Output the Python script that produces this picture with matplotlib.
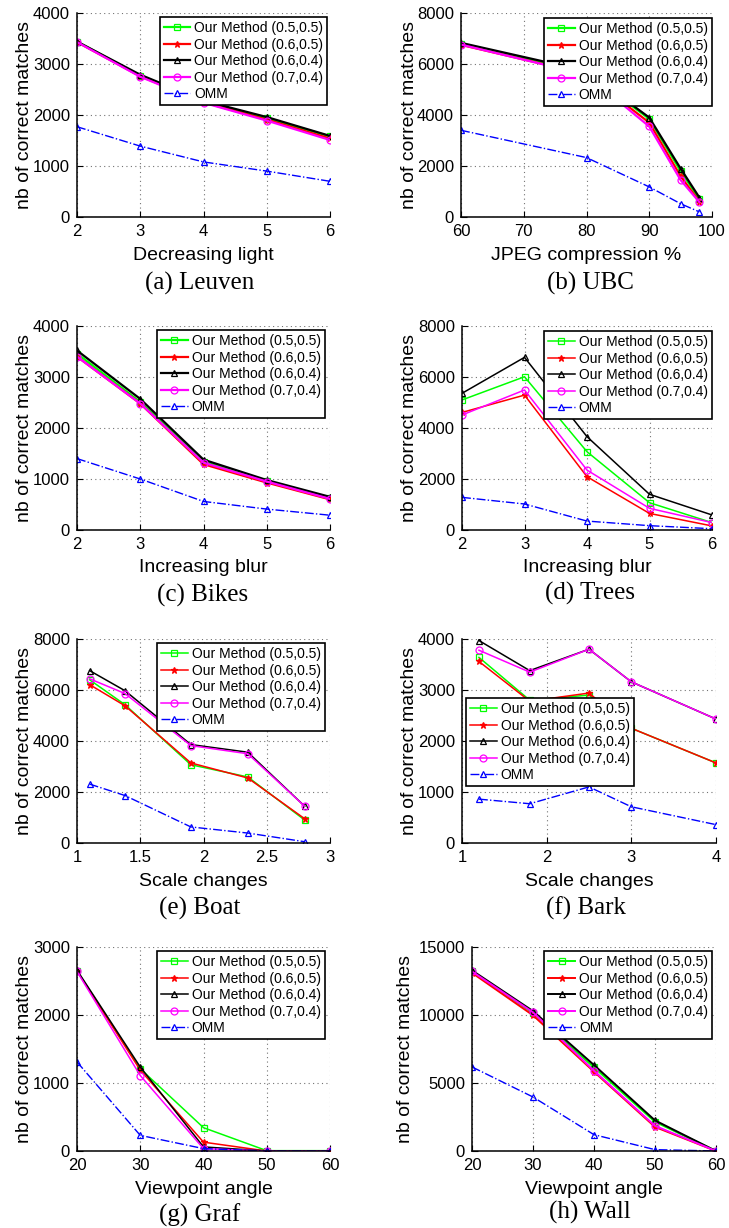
import matplotlib.pyplot as plt

plt.rcParams['font.family'] = ['Liberation Sans', 'DejaVu Sans']

labels = ['Our Method (0.5,0.5)', 'Our Method (0.6,0.5)', 'Our Method (0.6,0.4)',
          'Our Method (0.7,0.4)', 'OMM']

# (a) Leuven
leuven_x = [2, 3, 4, 5, 6]
leuven_g = [3440, 2770, 2270, 1940, 1580]
leuven_r = [3430, 2760, 2250, 1910, 1540]
leuven_k = [3440, 2790, 2280, 1960, 1590]
leuven_m = [3430, 2750, 2240, 1890, 1510]
leuven_omm = [1770, 1390, 1080, 900, 700]

# (b) UBC
ubc_x = [60, 80, 90, 95, 98]
ubc_g = [6800, 5680, 3850, 1800, 700]
ubc_r = [6750, 5600, 3700, 1600, 600]
ubc_k = [6830, 5720, 3900, 1900, 760]
ubc_m = [6760, 5580, 3550, 1450, 580]
ubc_omm = [3400, 2330, 1180, 520, 200]

# (c) Bikes
bikes_x = [2, 3, 4, 5, 6]
bikes_g = [3460, 2510, 1340, 960, 620]
bikes_r = [3400, 2480, 1290, 930, 600]
bikes_k = [3520, 2570, 1380, 980, 650]
bikes_m = [3400, 2480, 1320, 950, 610]
bikes_omm = [1400, 1000, 560, 410, 290]

# (d) Trees
trees_x = [2, 3, 4, 5, 6]
trees_g = [5100, 6010, 3070, 1070, 290]
trees_r = [4610, 5290, 2090, 650, 160]
trees_k = [5360, 6770, 3660, 1400, 590]
trees_m = [4510, 5490, 2350, 850, 290]
trees_omm = [1280, 1020, 350, 170, 50]

# (e) Boat
boat_x = [1.1, 1.38, 1.9, 2.35, 2.8]
boat_g = [6400, 5420, 3070, 2590, 900]
boat_r = [6210, 5380, 3140, 2550, 950]
boat_k = [6760, 5970, 3860, 3560, 1440]
boat_m = [6440, 5860, 3820, 3500, 1440]
boat_omm = [2310, 1860, 630, 390, 50]

# (f) Bark
bark_x = [1.2, 1.8, 2.5, 3.0, 4.0]
bark_g = [3640, 2800, 2900, 2250, 1570]
bark_r = [3560, 2780, 2940, 2250, 1570]
bark_k = [3970, 3380, 3800, 3160, 2430]
bark_m = [3780, 3350, 3800, 3160, 2430]
bark_omm = [860, 770, 1100, 710, 360]

# (g) Graf
graf_x = [20, 30, 40, 50, 60]
graf_g = [2650, 1210, 343, 5, 5]
graf_r = [2650, 1190, 130, 0, 0]
graf_k = [2660, 1235, 60, 0, 0]
graf_m = [2640, 1110, 35, 0, 0]
graf_omm = [1310, 230, 35, 0, 0]

# (h) Wall
wall_x = [20, 30, 40, 50, 60]
wall_g = [13200, 10150, 6150, 2150, 0]
wall_r = [13100, 9980, 5830, 1770, 0]
wall_k = [13280, 10290, 6320, 2250, 0]
wall_m = [13200, 10200, 5900, 1850, 0]
wall_omm = [6180, 3970, 1200, 100, 0]

styles = [
    dict(color=(0, 1, 0), marker='s', mfc='none', ls='-'),
    dict(color=(1, 0, 0), marker='*', ls='-'),
    dict(color='k', marker='^', mfc='none', ls='-'),
    dict(color=(1, 0, 1), marker='o', mfc='none', ls='-'),
    dict(color=(0, 0, 1), marker='^', mfc='none', ls='-.'),
]

W, H = 729, 1228
fig = plt.figure(figsize=(W / 100, H / 100), dpi=100)


def panel(box, x, ys, xlim, xticks, ylim, yticks, xlabel, caption, cap_xy,
          leg_loc, leg_anchor, lw=1.6, ylab_off=52):
    l, t, r, b = box
    ax = fig.add_axes([l / W, 1 - b / H, (r - l) / W, (b - t) / H])
    for y, lab, st in zip(ys, labels, styles):
        ax.plot(x, y, label=lab, lw=lw if st['ls'] == '-' else 1.0,
                markersize=5, mew=0.9, **st)
    ax.set_xlim(xlim)
    ax.set_ylim(ylim)
    ax.set_xticks(xticks)
    ax.set_yticks(yticks)
    ax.xaxis.set_major_formatter(plt.FuncFormatter(lambda v, p: f'{v:g}'))
    ax.grid(True, ls=(0, (1, 3)), color='0.45', lw=0.8)
    ax.spines['top'].set_visible(False)
    ax.spines['right'].set_visible(False)
    for s in ('left', 'bottom'):
        ax.spines[s].set_linewidth(1.1)
    ax.tick_params(direction='in', length=4, labelsize=12)
    ax.tick_params(axis='x', pad=5)
    ax.tick_params(axis='y', pad=5)
    ax.set_xlabel(xlabel, fontsize=14)
    ax.xaxis.label.set_va('center')
    ax.xaxis.set_label_coords(0.5, -38 / (b - t))
    ax.set_ylabel('nb of correct matches', fontsize=14)
    ax.yaxis.label.set_va('center')
    ax.yaxis.set_label_coords(-ylab_off / (r - l), 0.5)
    leg = ax.legend(loc=leg_loc, bbox_to_anchor=leg_anchor, fontsize=10,
                    fancybox=False, framealpha=1, edgecolor='k',
                    borderaxespad=0, handlelength=1.9, handletextpad=0.3,
                    labelspacing=0.18, borderpad=0.3, numpoints=1)
    leg.get_frame().set_linewidth(1.2)
    fig.text(cap_xy[0] / W, 1 - cap_xy[1] / H, caption, ha='center', va='center',
             fontsize=18, family=['Liberation Serif', 'DejaVu Serif'])
    return ax


panel((77, 13, 330, 217), leuven_x,
      [leuven_g, leuven_r, leuven_k, leuven_m, leuven_omm],
      (2, 6), [2, 3, 4, 5, 6], (0, 4000), [0, 1000, 2000, 3000, 4000],
      'Decreasing light', '(a) Leuven', (200, 283), 'upper right', (0.99, 0.98))

panel((461, 13, 712, 217), ubc_x,
      [ubc_g, ubc_r, ubc_k, ubc_m, ubc_omm],
      (60, 100), [60, 70, 80, 90, 100], (0, 8000), [0, 2000, 4000, 6000, 8000],
      'JPEG compression %', '(b) UBC', (590, 283), 'upper right', (1.0, 0.975))

panel((77, 326, 330, 530), bikes_x,
      [bikes_g, bikes_r, bikes_k, bikes_m, bikes_omm],
      (2, 6), [2, 3, 4, 5, 6], (0, 4000), [0, 1000, 2000, 3000, 4000],
      'Increasing blur', '(c) Bikes', (203, 595), 'upper right', (0.98, 0.98))

panel((462, 326, 712, 530), trees_x,
      [trees_g, trees_r, trees_k, trees_m, trees_omm],
      (2, 6), [2, 3, 4, 5, 6], (0, 8000), [0, 2000, 4000, 6000, 8000],
      'Increasing blur', '(d) Trees', (590, 593), 'upper right', (1.0, 0.975),
      lw=1.1)

panel((77, 639, 330, 843), boat_x,
      [boat_g, boat_r, boat_k, boat_m, boat_omm],
      (1, 3), [1, 1.5, 2, 2.5, 3], (0, 8000), [0, 2000, 4000, 6000, 8000],
      'Scale changes', '(e) Boat', (200, 908), 'upper right', (0.98, 0.98),
      lw=1.1)

panel((462, 639, 716, 843), bark_x,
      [bark_g, bark_r, bark_k, bark_m, bark_omm],
      (1, 4), [1, 2, 3, 4], (0, 4000), [0, 1000, 2000, 3000, 4000],
      'Scale changes', '(f) Bark', (586, 908), 'upper left', (0.016, 0.71),
      lw=1.1)

panel((77, 947, 330, 1151), graf_x,
      [graf_g, graf_r, graf_k, graf_m, graf_omm],
      (20, 60), [20, 30, 40, 50, 60], (0, 3000), [0, 1000, 2000, 3000],
      'Viewpoint angle', '(g) Graf', (200, 1215), 'upper right', (0.98, 0.98),
      lw=1.1)

panel((472, 947, 716, 1151), wall_x,
      [wall_g, wall_r, wall_k, wall_m, wall_omm],
      (20, 60), [20, 30, 40, 50, 60], (0, 15000), [0, 5000, 10000, 15000],
      'Viewpoint angle', '(h) Wall', (590, 1212), 'upper right', (0.984, 0.98),
      lw=1.4, ylab_off=66)

fig.savefig('out.png', dpi=100)
